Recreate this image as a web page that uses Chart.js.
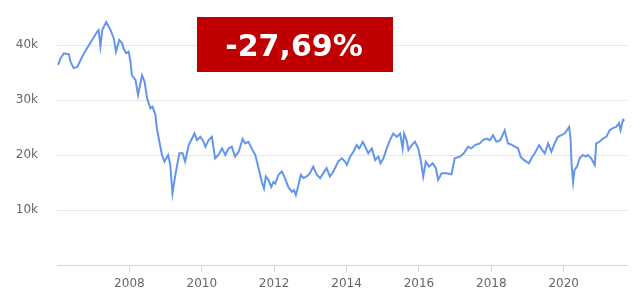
<!DOCTYPE html>
<html>
<head>
<meta charset="utf-8">
<script src="https://cdn.jsdelivr.net/npm/chart.js@4/dist/chart.umd.min.js"></script>
<style>
  html, body { margin: 0; padding: 0; background: #fff; }
  #wrap { width: 640px; height: 308px; position: relative; }
</style>
</head>
<body>
<div id="wrap"><canvas id="c"></canvas></div>
<script>
// Jahreswerte (Dezimaljahr) und Kurs
const years = [
  2006.03, 2006.10, 2006.19, 2006.33, 2006.37, 2006.46, 2006.56, 2006.70, 2006.83, 2006.97,
  2007.11, 2007.15, 2007.20, 2007.25, 2007.36, 2007.48, 2007.57, 2007.63, 2007.72, 2007.80,
  2007.84, 2007.91, 2007.98, 2008.03, 2008.07, 2008.17, 2008.24, 2008.35, 2008.42, 2008.49,
  2008.58, 2008.64, 2008.72, 2008.76, 2008.83, 2008.90, 2008.97, 2009.07, 2009.13, 2009.19,
  2009.27, 2009.38, 2009.47, 2009.54, 2009.64, 2009.73, 2009.80, 2009.87, 2009.96, 2010.05,
  2010.10, 2010.19, 2010.28, 2010.37, 2010.46, 2010.56, 2010.65, 2010.74, 2010.83, 2010.92,
  2011.02, 2011.13, 2011.20, 2011.29, 2011.38, 2011.48, 2011.57, 2011.66, 2011.72, 2011.77,
  2011.84, 2011.92, 2011.98, 2012.03, 2012.12, 2012.21, 2012.30, 2012.39, 2012.49, 2012.55,
  2012.60, 2012.67, 2012.74, 2012.81, 2012.90, 2012.99, 2013.08, 2013.18, 2013.27, 2013.36,
  2013.45, 2013.54, 2013.61, 2013.68, 2013.77, 2013.87, 2013.96,
  2014.01, 2014.10, 2014.19, 2014.28, 2014.35, 2014.45, 2014.54, 2014.60, 2014.70, 2014.79,
  2014.88, 2014.94, 2015.02, 2015.11, 2015.20, 2015.29, 2015.39, 2015.48, 2015.55, 2015.59,
  2015.66, 2015.71, 2015.80, 2015.89, 2015.98, 2016.05, 2016.12, 2016.19, 2016.28, 2016.38,
  2016.47, 2016.53, 2016.63, 2016.76, 2016.90, 2016.99, 2017.13, 2017.24, 2017.36, 2017.45,
  2017.55, 2017.68, 2017.77, 2017.87, 2017.96, 2018.05, 2018.14, 2018.25, 2018.37, 2018.46,
  2018.56, 2018.65, 2018.74, 2018.81, 2018.90, 2018.97, 2019.04, 2019.11, 2019.20, 2019.32,
  2019.41, 2019.48, 2019.57, 2019.66, 2019.75, 2019.84, 2019.94, 2020.03, 2020.09, 2020.15,
  2020.19, 2020.22, 2020.26, 2020.30, 2020.37, 2020.44, 2020.53, 2020.61, 2020.67, 2020.76,
  2020.86, 2020.90, 2020.99, 2021.08, 2021.18, 2021.27, 2021.36, 2021.45, 2021.53, 2021.57,
  2021.64, 2021.68
];
const values = [
  36400, 37600, 38500, 38300, 37000, 35800, 36000, 37900, 39400, 40900,
  42400, 42700, 39700, 42700, 44200, 42700, 41200, 38800, 40900, 40300,
  39400, 38500, 38800, 37000, 34500, 33600, 30900, 34500, 33300, 30300,
  28500, 28800, 27300, 24800, 22400, 20000, 18800, 20000, 18200, 13000,
  16400, 20300, 20300, 18800, 21800, 23000, 23900, 22700, 23300, 22400,
  21500, 22700, 23300, 19400, 20000, 21200, 20000, 21200, 21500, 19700,
  20600, 22900, 22100, 22400, 21200, 20000, 17600, 15100, 13900, 16100,
  15500, 14200, 15100, 14800, 16400, 17000, 15800, 14200, 13300, 13600,
  12700, 14500, 16400, 15800, 16100, 16700, 17900, 16400, 15800, 16700,
  17600, 16100, 16700, 17600, 18800, 19400, 18800,
  18200, 19700, 20600, 21800, 21200, 22400, 21200, 20300, 21200, 19100,
  19700, 18500, 19400, 21200, 22700, 23900, 23300, 23900, 21200, 23900,
  22700, 20900, 21800, 22400, 21200, 19100, 16100, 18800, 17900, 18500,
  17600, 15500, 16700, 16700, 16500, 19400, 19700, 20300, 21500, 21200,
  21800, 22100, 22700, 23000, 22700, 23600, 22400, 22700, 24500, 22100,
  21900, 21500, 21200, 19700, 19100, 18800, 18500, 19400, 20300, 21800,
  20900, 20300, 22100, 20600, 22100, 23300, 23600, 23900, 24500, 25100,
  23000, 18200, 15100, 17300, 17900, 19400, 20000, 19700, 20000, 19400,
  18200, 22100, 22400, 23000, 23300, 24500, 24900, 25100, 25800, 24500,
  26400, 26200
];

const xTicks = [2008, 2010, 2012, 2014, 2016, 2018, 2020];
const yTicks = [10000, 20000, 30000, 40000];
const yTickLabels = ['10k', '20k', '30k', '40k'];
const changeLabel = '-27,69%';

// rotes Kästchen mit der Veränderung
const badgePlugin = {
  id: 'badge',
  afterDraw(chart) {
    const ctx = chart.ctx;
    ctx.save();
    ctx.fillStyle = '#c00000';
    ctx.fillRect(197, 17, 196, 55);
    ctx.fillStyle = '#ffffff';
    ctx.font = 'bold 30px "DejaVu Sans"';
    ctx.textAlign = 'center';
    ctx.textBaseline = 'alphabetic';
    ctx.fillText(changeLabel, 294, 56);
    ctx.restore();
  }
};

new Chart(document.getElementById('c'), {
  type: 'line',
  data: {
    datasets: [{
      data: years.map((x, i) => ({ x: x, y: values[i] })),
      borderColor: '#6495ed',
      borderWidth: 2,
      pointRadius: 0,
      tension: 0,
      fill: false
    }]
  },
  options: {
    responsive: true,
    maintainAspectRatio: false,
    animation: false,
    layout: { padding: { left: 15, right: 13, top: 17.5, bottom: 17 } },
    plugins: { legend: { display: false }, tooltip: { enabled: false } },
    scales: {
      x: {
        type: 'linear',
        min: 2006.0,
        max: 2021.75,
        afterBuildTicks: axis => { axis.ticks = xTicks.map(v => ({ value: v })); },
        afterFit: axis => { axis.height = 26; axis.paddingLeft = 0; axis.paddingRight = 0; },
        ticks: {
          font: { family: 'DejaVu Sans', size: 12 },
          color: '#666666',
          padding: 5,
          maxRotation: 0,
          callback: v => String(v)
        },
        grid: { drawOnChartArea: false, drawTicks: true, tickLength: 7, color: '#ccd6eb' },
        border: { color: '#ccd6eb', width: 1 }
      },
      y: {
        min: 0,
        max: 45000,
        afterBuildTicks: axis => { axis.ticks = yTicks.map(v => ({ value: v })); },
        afterFit: axis => { axis.width = 42; axis.paddingTop = 0; axis.paddingBottom = 0; },
        ticks: {
          font: { family: 'DejaVu Sans', size: 12 },
          color: '#666666',
          padding: 19,
          callback: v => yTickLabels[yTicks.indexOf(v)]
        },
        grid: { drawTicks: false, color: '#e6e6e6' },
        border: { display: false }
      }
    }
  },
  plugins: [badgePlugin]
});
</script>
</body>
</html>
